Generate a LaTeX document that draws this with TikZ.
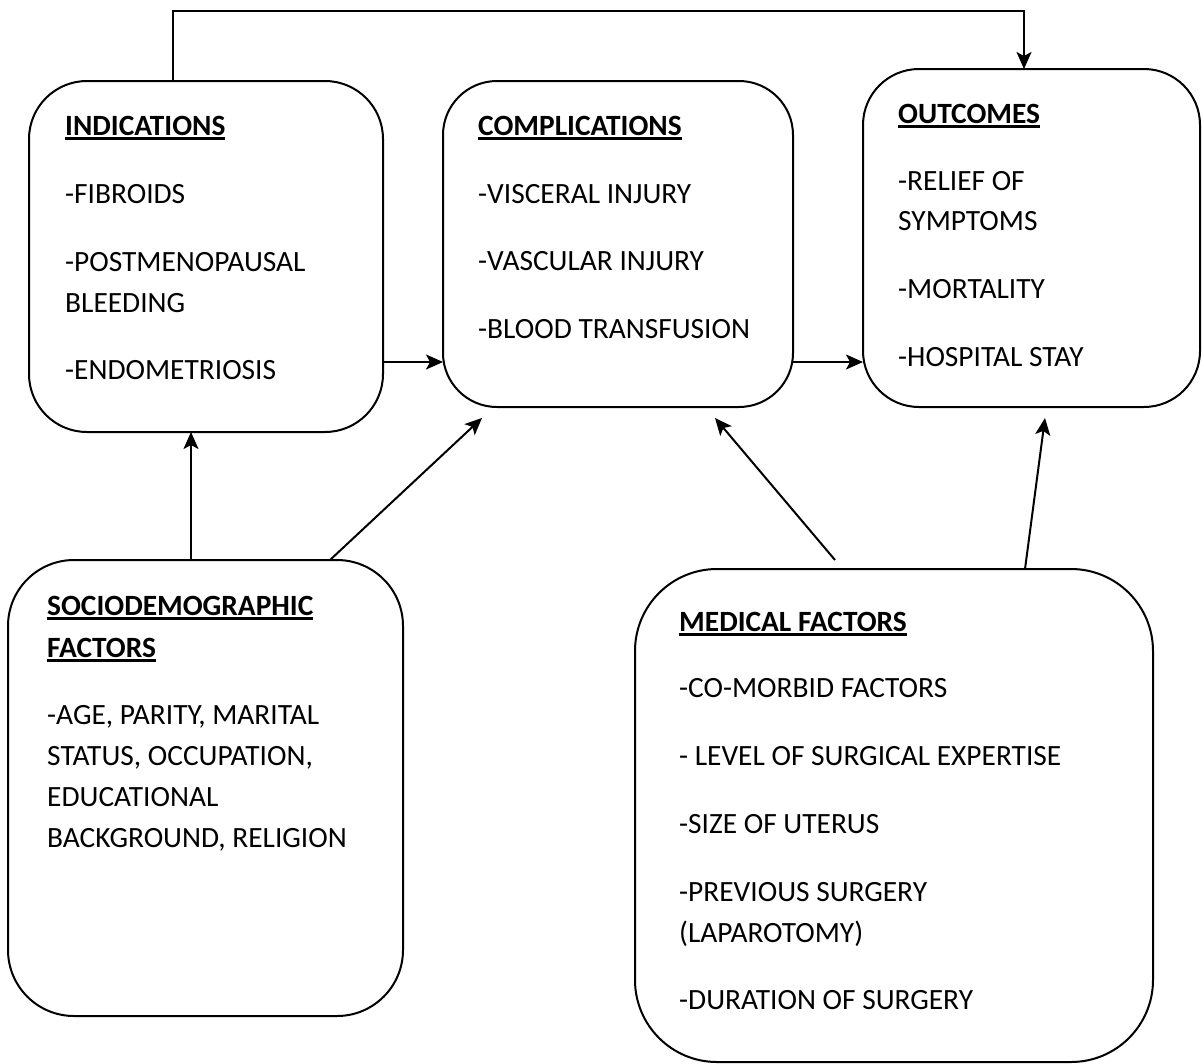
\documentclass[tikz,border=0pt]{standalone}
\usepackage{fontspec}
\setmainfont{Carlito}
\usetikzlibrary{arrows.meta}
\newcommand\hdul[1]{\setbox0=\hbox{\bfseries #1}\rlap{\vrule height -2.2pt depth 4.6pt width \wd0}\box0}
\tikzset{
  box/.style={draw, line width=2pt, inner sep=0pt, outer sep=0pt},
  txt/.style={anchor=base west, inner sep=0pt, font=\fontsize{29.4pt}{35pt}\selectfont},
  arr/.style={line width=2pt, -{Stealth[length=17pt,width=15pt,inset=4pt]}},
  ln/.style={line width=2pt}
}
\begin{document}
\begin{tikzpicture}[x=1pt,y=-1pt]
\useasboundingbox (0,0) rectangle (1202,1063);
% boxes
\node[box, rounded corners=58pt, minimum width=354pt, minimum height=351pt] (ind) at (206,256.5) {};
\node[box, rounded corners=54pt, minimum width=350pt, minimum height=326pt] (comp) at (618,244) {};
\node[box, rounded corners=56pt, minimum width=337pt, minimum height=338pt] (out) at (1031.5,238) {};
\node[box, rounded corners=66pt, minimum width=395pt, minimum height=456pt] (soc) at (205.5,788) {};
\node[box, rounded corners=82pt, minimum width=518pt, minimum height=493pt] (med) at (894,815.5) {};
% indications text
\node[txt] (i0) at (65,135) {\hdul{INDICATIONS}};
\node[txt] (i1) at (65,203) {-FIBROIDS};
\node[txt] (i2) at (65,271) {-POSTMENOPAUSAL};
\node[txt] (i3) at (65,312) {BLEEDING};
\node[txt] (i4) at (65,379) {-ENDOMETRIOSIS};
% complications text
\node[txt] (c0) at (478,135) {\hdul{COMPLICATIONS}};
\node[txt] (c1) at (478,203) {-VISCERAL INJURY};
\node[txt] (c2) at (478,270) {-VASCULAR INJURY};
\node[txt] (c3) at (478,338) {-BLOOD TRANSFUSION};
% outcomes text
\node[txt] (o0) at (898,123) {\hdul{OUTCOMES}};
\node[txt] (o1) at (898,190) {-RELIEF OF};
\node[txt] (o2) at (898,230) {SYMPTOMS};
\node[txt] (o3) at (898,298) {-MORTALITY};
\node[txt] (o4) at (898,366) {-HOSPITAL STAY};
% sociodemographic text
\node[txt] (s0) at (47,615) {\hdul{SOCIODEMOGRAPHIC}};
\node[txt] (s1) at (47,657) {\hdul{FACTORS}};
\node[txt] (s2) at (47,724) {-AGE, PARITY, MARITAL};
\node[txt] (s3) at (47,765) {STATUS, OCCUPATION,};
\node[txt] (s4) at (47,806) {EDUCATIONAL};
\node[txt] (s5) at (47,847) {BACKGROUND, RELIGION};
% medical text
\node[txt] (m0) at (679,631) {\hdul{MEDICAL FACTORS}};
\node[txt] (m1) at (679,697) {-CO-MORBID FACTORS};
\node[txt] (m2) at (679,765) {- LEVEL OF SURGICAL EXPERTISE};
\node[txt] (m3) at (679,833) {-SIZE OF UTERUS};
\node[txt] (m4) at (679,901) {-PREVIOUS SURGERY};
\node[txt] (m5) at (679,942) {(LAPAROTOMY)};
\node[txt] (m6) at (679,1009) {-DURATION OF SURGERY};
% helper coordinates
\coordinate (tA) at (173,11);
\coordinate (tB) at (1024,11);
\coordinate (yA) at (0,362);
\coordinate (vx) at (191,0);
\coordinate (sx) at (330,0);
\coordinate (sEnd) at (482,418);
\coordinate (mStart) at (835,560);
\coordinate (mEnd) at (715,418);
\coordinate (mx) at (1025,0);
\coordinate (oEnd) at (1045,418);
% connectors
\draw[arr] (ind.north -| tA) -- (tA) -- (tB) -- (out.north -| tB);
\draw[arr] (ind.east |- yA) -- (comp.west |- yA);
\draw[arr] (comp.east |- yA) -- (out.west |- yA);
\draw[arr] (soc.north -| vx) -- (ind.south -| vx);
\draw[arr] (soc.north -| sx) -- (sEnd);
\draw[arr] (mStart) -- (mEnd);
\draw[arr] (med.north -| mx) -- (oEnd);
\end{tikzpicture}
\end{document}
